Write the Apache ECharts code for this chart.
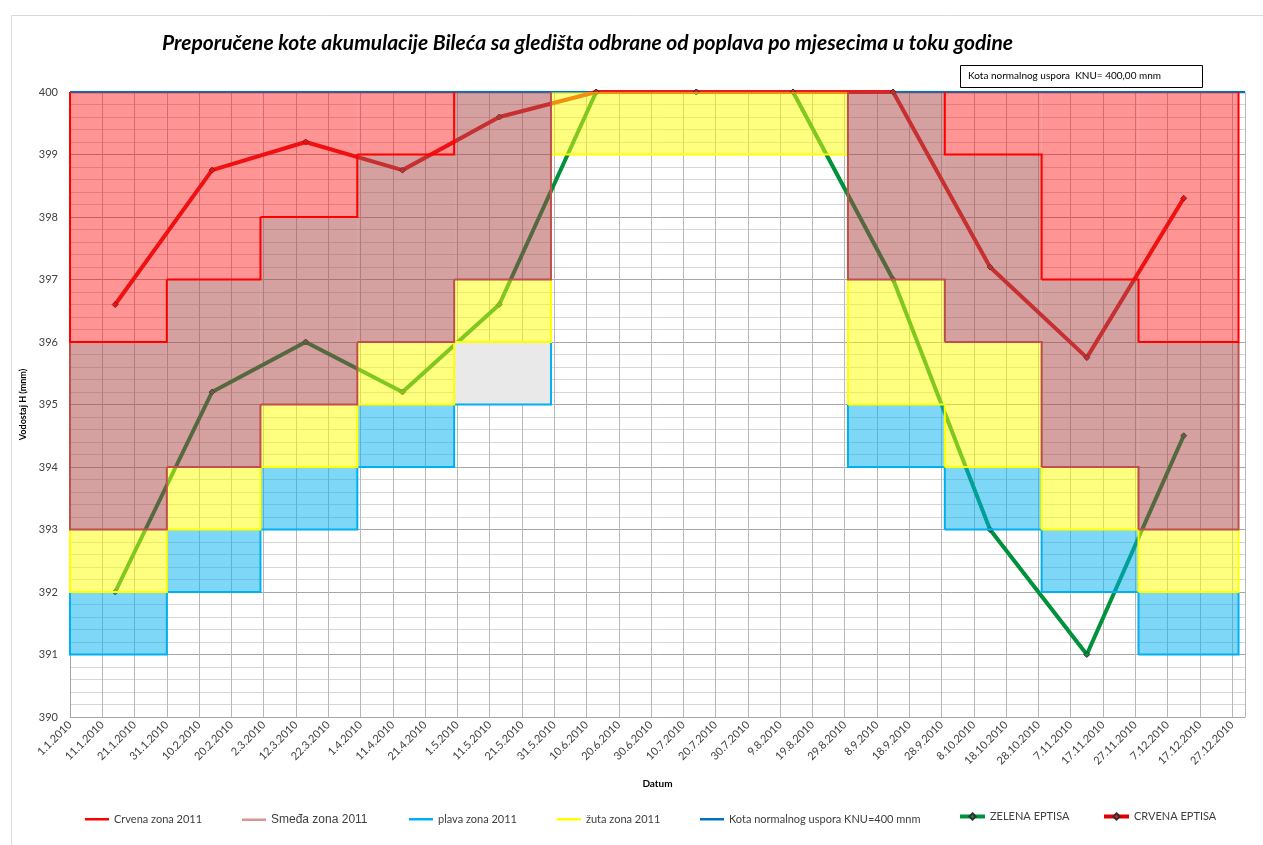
<!DOCTYPE html>
<html>
<head>
<meta charset="utf-8">
<title>Preporučene kote akumulacije Bileća</title>
<script src="https://cdn.jsdelivr.net/npm/echarts@6/dist/echarts.min.js"></script>
<style>
  html, body { margin: 0; padding: 0; background: #fff; }
  #chart { width: 1263px; height: 845px; }
</style>
</head>
<body>
<div id="chart"></div>
<script>
// x os: broj dana od 1.1.2010
var monthStart = [0, 30, 59, 89, 119, 149, 180, 211, 241, 271, 301, 331, 362];

// zone po mjesecima (donja / gornja kota), null = zona ne postoji
var redLo    = [396, 397, 398, 399, null, null, null, null, null, 399, 397, 396];
var redHi    = [400, 400, 400, 400, null, null, null, null, null, 400, 400, 400];
var brownLo  = [393, 394, 395, 396, 397, null, null, null, 397, 396, 394, 393];
var brownHi  = [396, 397, 398, 399, 400, null, null, null, 400, 399, 397, 396];
var yellowLo = [392, 393, 394, 395, 396, 399, 399, 399, 395, 394, 393, 392];
var yellowHi = [393, 394, 395, 396, 397, 400, 400, 400, 397, 396, 394, 393];
var blueLo   = [391, 392, 393, 394, 395, null, null, null, 394, 393, 392, 391];
var blueHi   = [392, 393, 394, 395, 396, null, null, null, 395, 394, 393, 392];
var grayMonths = [4]; // svibanj - siva (teksturna) plava zona

// EPTISA krivulje
var pointDays = [14, 44, 73, 103, 133, 163, 194, 224, 255, 285, 315, 345];
var greenEptisa = [392, 395.2, 396, 395.2, 396.6, 400, 400, 400, 397, 393, 391, 394.5];
var redEptisa   = [396.6, 398.75, 399.2, 398.75, 399.6, 400, 400, 400, 400, 397.2, 395.75, 398.3];

var knuDays = [0, 364];
var knuLevel = 400;

function dayLabel(v) {
  var d = new Date(2010, 0, 1 + v);
  return d.getDate() + '.' + (d.getMonth() + 1) + '.2010';
}

function zoneData(lo, hi) {
  var out = [];
  for (var i = 0; i < lo.length; i++) {
    if (lo[i] == null) continue;
    out.push([monthStart[i], monthStart[i + 1], lo[i], hi[i], i]);
  }
  return out;
}

function zoneSeries(name, lo, hi, fill, stroke) {
  return {
    name: name,
    type: 'custom',
    z: 3,
    silent: true,
    itemStyle: { color: stroke },
    data: zoneData(lo, hi),
    encode: { x: [0, 1], y: [2, 3] },
    renderItem: function (params, api) {
      var i = api.value(4);
      var s = monthStart[i], e = monthStart[i + 1];
      var p0 = api.coord([s, hi[i]]);
      var p1 = api.coord([e, lo[i]]);
      var f = grayMonths.indexOf(i) >= 0 && lo === blueLo ? '#e9e9e9' : fill;
      var pts = [];
      if (i === 0 || lo[i - 1] == null) pts.push(api.coord([s, hi[i]]));
      pts.push(api.coord([s, lo[i]]));
      pts.push(api.coord([e, lo[i]]));
      if (i + 1 < lo.length && lo[i + 1] != null) pts.push(api.coord([e, lo[i + 1]]));
      else pts.push(api.coord([e, hi[i]]));
      return {
        type: 'group',
        children: [
          { type: 'rect', shape: { x: p0[0], y: p0[1], width: p1[0] - p0[0], height: p1[1] - p0[1] }, style: { fill: f } },
          { type: 'polyline', shape: { points: pts }, style: { stroke: stroke, lineWidth: 2, fill: null } }
        ]
      };
    }
  };
}

function pairs(xs, ys) {
  return xs.map(function (x, i) { return [x, ys[i]]; });
}

var chart = echarts.init(document.getElementById('chart'));

var legendText = { fontSize: 11, color: '#404040', fontFamily: 'Lato' };
function legendAt(x, item, w, h, extra) {
  var l = { left: x, top: 815 - h / 2, padding: 0, itemWidth: w, itemHeight: h, itemGap: 0,
            textStyle: legendText, data: [item], selectedMode: false };
  if (extra) for (var k in extra) l[k] = extra[k];
  return l;
}

chart.setOption({
  animation: false,
  backgroundColor: '#fff',
  title: {
    text: 'Preporučene kote akumulacije Bileća sa gledišta odbrane od poplava po mjesecima u toku godine',
    left: 157, top: 28,
    textStyle: { fontFamily: 'Lato', fontSize: 21, fontStyle: 'italic', fontWeight: 'bold', color: '#000' }
  },
  graphic: [
    { type: 'rect', left: 9, top: 13, silent: true,
      shape: { width: 1300, height: 900 }, style: { fill: null, stroke: '#d9d9d9', lineWidth: 1 } },
    { type: 'rect', left: 960, top: 65, silent: true,
      shape: { width: 242, height: 22 }, style: { fill: '#fff', stroke: '#000', lineWidth: 1 } },
    { type: 'text', left: 968, top: 71, silent: true,
      style: { text: 'Kota normalnog uspora  KNU= 400,00 mnm', fontSize: 10, fontFamily: 'Lato', fill: '#000' } }
  ],
  legend: [
    legendAt(85, { name: 'Crvena zona 2011', icon: 'rect', itemStyle: { color: '#ff0000' } }, 24, 2.5),
    legendAt(242, { name: 'Smeđa zona 2011', icon: 'rect', itemStyle: { color: '#d99594' } }, 24, 2.5,
             { textStyle: { fontSize: 12, color: '#404040', fontFamily: 'Liberation Sans' } }),
    legendAt(409, { name: 'plava zona 2011', icon: 'rect', itemStyle: { color: '#00b0f0' } }, 24, 2.5),
    legendAt(557, { name: 'žuta zona 2011', icon: 'rect', itemStyle: { color: '#ffff00' } }, 24, 2.5),
    legendAt(700, { name: 'Kota normalnog uspora KNU=400 mnm', icon: 'rect', itemStyle: { color: '#0070c0' } }, 24, 2.5),
    legendAt(958, { name: 'ZELENA EPTISA', lineStyle: { width: 4 } }, 25, 8),
    legendAt(1102, { name: 'CRVENA EPTISA', lineStyle: { width: 4, color: '#e00000' } }, 25, 8)
  ],
  grid: { left: 70, right: 18, top: 92, bottom: 128, outerBoundsMode: 'none' },
  xAxis: {
    type: 'value', min: 0, max: 364, interval: 10,
    name: 'Datum', nameLocation: 'middle', nameGap: 62,
    nameTextStyle: { fontFamily: 'Lato', fontSize: 10, fontWeight: 'bold', color: '#000' },
    axisLine: { lineStyle: { color: '#a6a6a6' } },
    axisTick: { show: false },
    axisLabel: { rotate: 45, fontSize: 11, fontFamily: 'Lato', color: '#404040', margin: 6,
                 showMaxLabel: false, formatter: dayLabel },
    splitLine: { show: true, lineStyle: { color: '#b8b8b8', width: 1 } }
  },
  yAxis: {
    type: 'value', min: 390, max: 400, interval: 1,
    name: 'Vodostaj H (mnm)', nameLocation: 'middle', nameGap: 32, nameRotate: 90,
    nameTextStyle: { fontFamily: 'Lato', fontSize: 9, fontWeight: 'bold', color: '#000' },
    axisLine: { show: true, lineStyle: { color: '#a6a6a6' } },
    axisTick: { show: false },
    axisLabel: { fontSize: 11, fontFamily: 'Lato', color: '#404040', margin: 12 },
    splitLine: { lineStyle: { color: '#a6a6a6' } },
    minorTick: { show: false, splitNumber: 5 },
    minorSplitLine: { show: true, lineStyle: { color: '#d6d6d6' } }
  },
  series: [
    {
      name: 'Kota normalnog uspora KNU=400 mnm', type: 'line', z: 1,
      data: knuDays.map(function (d) { return [d, knuLevel]; }),
      symbol: 'none', lineStyle: { color: '#0070c0', width: 2.5 }, itemStyle: { color: '#0070c0' }
    },
    {
      name: 'ZELENA EPTISA', type: 'line', z: 2,
      data: pairs(pointDays, greenEptisa),
      symbol: 'diamond', symbolSize: 6,
      lineStyle: { color: '#00913c', width: 4 },
      itemStyle: { color: '#00913c', borderColor: '#303030', borderWidth: 1 }
    },
    {
      name: 'CRVENA EPTISA', type: 'line', z: 2,
      data: pairs(pointDays, redEptisa),
      symbol: 'diamond', symbolSize: 6,
      lineStyle: { color: '#e41e1e', width: 4 },
      itemStyle: { color: '#e41e1e', borderColor: '#303030', borderWidth: 1 }
    },
    zoneSeries('plava zona 2011', blueLo, blueHi, 'rgba(0,176,240,0.5)', '#00b0f0'),
    zoneSeries('žuta zona 2011', yellowLo, yellowHi, 'rgba(255,255,0,0.5)', '#ffff00'),
    zoneSeries('Smeđa zona 2011', brownLo, brownHi, 'rgba(170,65,65,0.5)', '#c0504d'),
    zoneSeries('Crvena zona 2011', redLo, redHi, 'rgba(255,0,0,0.42)', '#ff0000')
  ]
});
</script>
</body>
</html>
